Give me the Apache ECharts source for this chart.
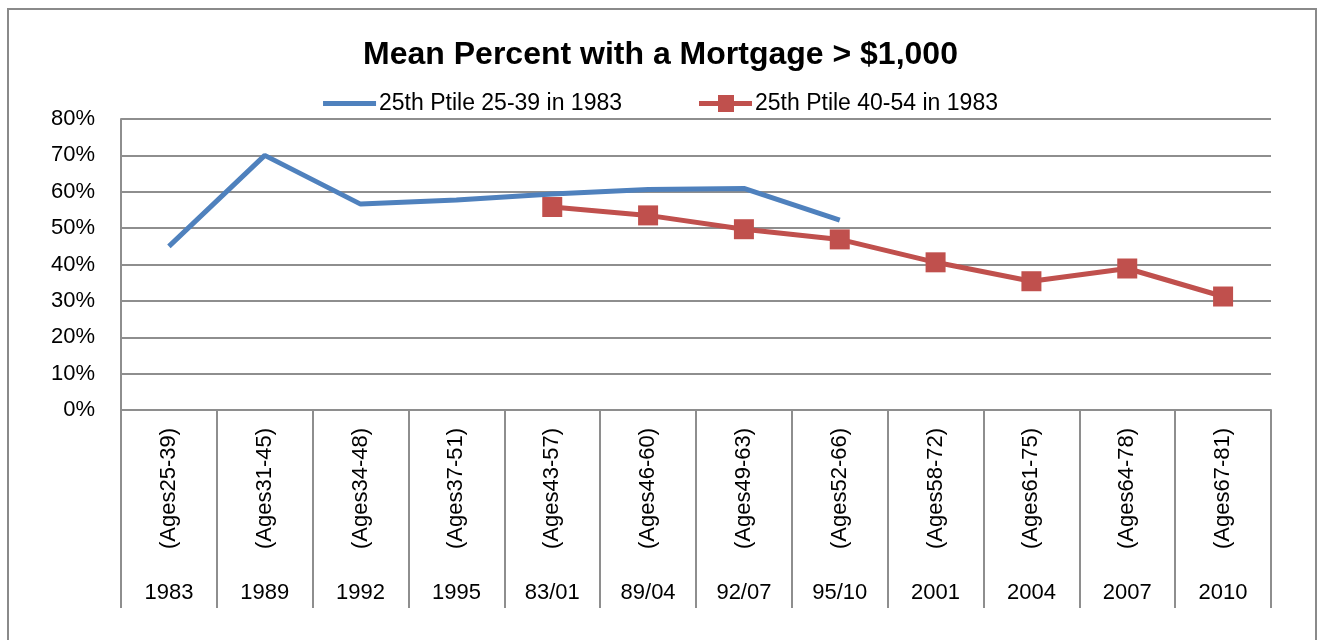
<!DOCTYPE html>
<html>
<head>
<meta charset="utf-8">
<style>
  html, body { margin: 0; padding: 0; background: #fff; }
  #chart { width: 1321px; height: 640px; }
</style>
<script src="https://cdn.jsdelivr.net/npm/echarts@6/dist/echarts.min.js"></script>
</head>
<body>
<div id="chart"></div>
<script>
// Survey years and the age band each cohort occupied that year
const years = ['1983', '1989', '1992', '1995', '83/01', '89/04', '92/07', '95/10', '2001', '2004', '2007', '2010'];
const ageBands = ['(Ages25-39)', '(Ages31-45)', '(Ages34-48)', '(Ages37-51)', '(Ages43-57)', '(Ages46-60)',
                  '(Ages49-63)', '(Ages52-66)', '(Ages58-72)', '(Ages61-75)', '(Ages64-78)', '(Ages67-81)'];

// Mean percent with a mortgage above $1,000 (null where the cohort has no observation)
const cohort2539 = [45.0, 70.0, 56.6, 57.7, 59.4, 60.6, 60.9, 52.2, null, null, null, null];
const cohort4054 = [null, null, null, null, 55.8, 53.5, 49.7, 46.9, 40.6, 35.4, 38.9, 31.2];

const yTicks = { min: 0, max: 80, interval: 10 };

const FONT = 'Liberation Sans';
const GRID_COLOR = '#8e8e8e';

// Legend keys: a thick stroke, and a thick stroke with a square marker on it
const ICON_LINE = 'path://M0,6 L53,6 L53,11 L0,11 Z M0,0 L0,0 M0,17 L0,17';
const ICON_LINE_SQUARE = 'path://M0,6 L53,6 L53,11 L0,11 Z M19,0 L35,0 L35,17 L19,17 Z';

const chart = echarts.init(document.getElementById('chart'), null, { renderer: 'canvas' });

chart.setOption({
  backgroundColor: '#ffffff',
  animation: false,
  title: {
    text: 'Mean Percent with a Mortgage > $1,000',
    left: 'center',
    top: 34,
    textStyle: { fontFamily: FONT, fontSize: 32, fontWeight: 'bold', color: '#000' }
  },
  legend: {
    top: 87,
    left: 'center',
    itemWidth: 53,
    itemHeight: 17,
    itemGap: 77,
    textStyle: { fontFamily: FONT, fontSize: 23, color: '#000', padding: [0, 0, 0, -2] },
    data: [
      { name: '25th Ptile 25-39 in 1983', icon: ICON_LINE },
      { name: '25th Ptile 40-54 in 1983', icon: ICON_LINE_SQUARE }
    ]
  },
  graphic: [{
    type: 'rect',
    silent: true,
    shape: { x: 8, y: 9, width: 1308, height: 700 },
    style: { fill: 'none', stroke: '#8a8a8a', lineWidth: 2 }
  }],
  grid: { left: 121, right: 50, top: 119, bottom: 230, containLabel: false },
  xAxis: [{
    type: 'category',
    data: ageBands,
    boundaryGap: true,
    axisLine: { show: true, lineStyle: { color: GRID_COLOR, width: 2 } },
    axisTick: { show: true, interval: 0, length: 198, lineStyle: { color: GRID_COLOR, width: 2 } },
    axisLabel: { interval: 0, rotate: 90, margin: 18, fontFamily: FONT, fontSize: 22, color: '#000' }
  }, {
    type: 'category',
    data: years,
    position: 'bottom',
    boundaryGap: true,
    axisLine: { show: false },
    axisTick: { show: false },
    axisLabel: { interval: 0, margin: 172, fontFamily: FONT, fontSize: 22, color: '#000' }
  }],
  yAxis: {
    type: 'value',
    min: yTicks.min,
    max: yTicks.max,
    interval: yTicks.interval,
    axisLine: { show: true, lineStyle: { color: GRID_COLOR, width: 2 } },
    axisTick: { show: false },
    splitLine: { show: true, lineStyle: { color: GRID_COLOR, width: 2 } },
    axisLabel: { formatter: '{value}%', margin: 26, fontFamily: FONT, fontSize: 22, color: '#000' }
  },
  series: [{
    name: '25th Ptile 25-39 in 1983',
    type: 'line',
    xAxisIndex: 0,
    data: cohort2539,
    symbol: 'none',
    lineStyle: { color: '#4F81BD', width: 5 },
    itemStyle: { color: '#4F81BD' }
  }, {
    name: '25th Ptile 40-54 in 1983',
    type: 'line',
    xAxisIndex: 0,
    data: cohort4054,
    symbol: 'rect',
    symbolSize: 20,
    lineStyle: { color: '#C0504D', width: 5 },
    itemStyle: { color: '#C0504D' }
  }]
});
</script>
</body>
</html>
